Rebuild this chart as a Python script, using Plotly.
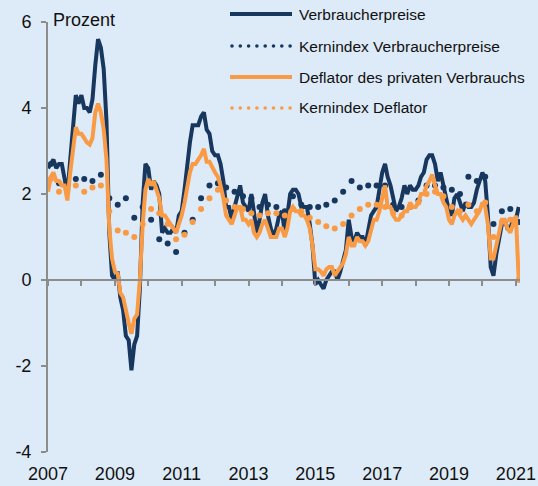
import plotly.graph_objects as go
import pandas as pd

# ---------------- data ----------------
months = pd.date_range("2007-01-01", "2021-02-01", freq="MS").strftime("%Y-%m-%d").tolist()
quarters = pd.date_range("2007-02-01", "2021-02-01", freq="3MS").strftime("%Y-%m-%d").tolist()

verbraucherpreise = [
    2.6, 2.7, 2.8, 2.6, 2.7, 2.7, 2.4, 2.0, 2.8, 3.5, 4.3, 4.1,
    4.3, 4.0, 4.0, 3.9, 4.2, 5.0, 5.6, 5.4, 4.9, 3.7, 1.1, 0.1,
    0.0, 0.2, -0.4, -0.7, -1.3, -1.4, -2.1, -1.5, -1.3, -0.2, 1.8, 2.7,
    2.6, 2.1, 2.3, 2.2, 2.0, 1.1, 1.2, 1.1, 1.1, 1.2, 1.1, 1.5,
    1.6, 2.1, 2.7, 3.2, 3.6, 3.6, 3.6, 3.8, 3.9, 3.5, 3.4, 3.0,
    2.9, 2.9, 2.7, 2.3, 1.7, 1.7, 1.4, 1.7, 2.0, 2.2, 1.8, 1.7,
    1.6, 2.0, 1.5, 1.1, 1.4, 1.8, 2.0, 1.5, 1.2, 1.0, 1.2, 1.5,
    1.6, 1.1, 1.5, 2.0, 2.1, 2.1, 2.0, 1.7, 1.7, 1.7, 1.3, 0.8,
    -0.1, 0.0, -0.1, -0.2, 0.0, 0.1, 0.2, 0.2, 0.0, 0.2, 0.5, 0.7,
    1.4, 1.0, 0.9, 1.1, 1.0, 1.0, 0.8, 1.1, 1.5, 1.6, 1.7, 2.1,
    2.5, 2.7, 2.4, 2.2, 1.9, 1.6, 1.7, 1.9, 2.2, 2.0, 2.2, 2.1,
    2.1, 2.2, 2.4, 2.5, 2.8, 2.9, 2.9, 2.7, 2.3, 2.5, 2.2, 1.9,
    1.6, 1.5, 1.9, 2.0, 1.8, 1.6, 1.8, 1.7, 1.7, 1.8, 2.1, 2.3,
    2.5, 2.3, 1.5, 0.3, 0.1, 0.6, 1.0, 1.3, 1.4, 1.2, 1.2, 1.4,
    1.4, 1.7,
]

deflator = [
    2.05, 2.4, 2.5, 2.3, 2.3, 2.2, 2.2, 1.85, 2.5, 3.0, 3.55, 3.4,
    3.4, 3.3, 3.2, 3.15, 3.3, 3.9, 4.1, 3.9, 3.5, 2.8, 1.2, 0.5,
    0.2, 0.15, -0.3, -0.4, -0.75, -1.0, -1.25, -0.9, -0.8, 0.0, 1.3, 2.1,
    2.35, 2.2, 2.3, 2.1, 1.9, 1.5, 1.5, 1.4, 1.3, 1.2, 1.1, 1.3,
    1.5, 1.8, 2.2, 2.5, 2.7, 2.7, 2.8, 2.9, 3.05, 2.75, 2.75, 2.6,
    2.5, 2.4, 2.2, 1.9, 1.5, 1.4, 1.3, 1.5, 1.7, 1.7, 1.4, 1.4,
    1.3, 1.4, 1.1, 1.0, 1.1, 1.3, 1.4, 1.2, 1.0, 1.0, 1.0, 1.2,
    1.2, 1.0, 1.2, 1.6, 1.7, 1.6, 1.6, 1.5, 1.5, 1.4, 1.2, 0.8,
    0.25, 0.25, 0.2, 0.1, 0.25, 0.3, 0.3, 0.1, 0.2, 0.3, 0.4, 0.6,
    1.0, 0.8, 0.8, 1.0, 0.9, 0.9, 0.8, 0.9, 1.2, 1.4, 1.4, 1.6,
    1.9, 2.2, 1.7, 1.7, 1.5, 1.4, 1.4, 1.5, 1.6, 1.6, 1.8, 1.7,
    1.7, 1.8, 2.0, 2.0, 2.2, 2.3, 2.45, 2.2, 2.0, 2.0, 1.8, 1.7,
    1.4, 1.3, 1.5, 1.6, 1.5, 1.4, 1.5, 1.4, 1.3, 1.4, 1.5, 1.6,
    1.8, 1.7, 1.3, 0.5, 0.5, 0.8, 1.0, 1.4, 1.4, 1.2, 1.1, 1.3,
    1.5, 0.0,
]

kern_vp = [
    2.7, 2.25, 2.2, 2.35,
    2.35, 2.3, 2.45, 1.9,
    1.75, 1.9, 1.45, 1.7,
    1.4, 0.95, 0.85, 0.65,
    1.1, 1.4, 1.9, 2.2,
    2.25, 2.15, 2.05, 1.95,
    1.9, 1.7, 1.75, 1.7,
    1.6, 1.95, 1.75, 1.7,
    1.7, 1.75, 1.85, 2.05,
    2.3, 2.15, 2.2, 2.2,
    2.2, 1.75, 1.7, 1.7,
    1.85, 2.2, 2.2, 2.15,
    2.1, 2.0, 2.4, 2.3,
    2.4, 1.3, 1.6, 1.65,
    1.35,
]

kern_deflator = [
    2.35, 2.05, 2.1, 2.2,
    2.05, 2.15, 2.2, 1.6,
    1.15, 1.1, 1.0, 1.3,
    1.65, 1.55, 1.3, 0.95,
    1.05, 1.35, 1.65, 1.9,
    2.1, 1.85, 1.7, 1.65,
    1.55, 1.5, 1.55, 1.55,
    1.5, 1.65, 1.6, 1.45,
    1.35, 1.25, 1.2, 1.3,
    1.5, 1.65, 1.75, 1.75,
    1.7, 1.55, 1.5, 1.7,
    1.8, 2.0, 2.05, 1.95,
    1.7, 1.6, 1.75, 1.6,
    1.8, 1.0, 1.35, 1.4,
    0.0,
]

names = ["Verbraucherpreise", "Kernindex Verbraucherpreise",
         "Deflator des privaten Verbrauchs", "Kernindex Deflator"]
year_ticks = ["2007-01-01", "2009-01-01", "2011-01-01", "2013-01-01",
              "2015-01-01", "2017-01-01", "2019-01-01", "2021-01-01"]
year_labels = ["2007", "2009", "2011", "2013", "2015", "2017", "2019", "2021"]
y_ticks = [-4, -2, 0, 2, 4, 6]
y_labels = ["-4", "-2", "0", "2", "4", "6"]

# ---------------- style ----------------
NAVY = "#17375E"
ORANGE = "#F99A45"
BG = "#DDEAF7"
AXIS = "#8C8C8C"
FONT = "Arial, Liberation Sans, sans-serif"

W, H = 538, 486
L, R, T, B = 48, 18, 22, 34
X_RANGE = ["2007-01-01", "2021-02-15"]

fig = go.Figure()
fig.add_trace(go.Scatter(x=months, y=verbraucherpreise, mode="lines",
                         line=dict(color=NAVY, width=4), name=names[0]))
fig.add_trace(go.Scatter(x=quarters, y=kern_vp, mode="markers",
                         marker=dict(color=NAVY, size=6), name=names[1]))
fig.add_trace(go.Scatter(x=months, y=deflator, mode="lines",
                         line=dict(color=ORANGE, width=4), name=names[2]))
fig.add_trace(go.Scatter(x=quarters, y=kern_deflator, mode="markers",
                         marker=dict(color=ORANGE, size=6), name=names[3]))

pw = W - L - R
ph = H - T - B
def px(xp):
    return (xp - L) / pw
def py(yp):
    return (H - B - yp) / ph

# manual legend
shapes = []
annotations = []
rows = [14, 46, 77, 108]
colors = [NAVY, NAVY, ORANGE, ORANGE]
dotted = [False, True, False, True]
for i, name in enumerate(names):
    yy = rows[i]
    if dotted[i]:
        for k in range(8):
            cx = 232 + k * 8.3
            shapes.append(dict(type="circle", xref="paper", yref="paper",
                               x0=px(cx - 1.8), x1=px(cx + 1.8),
                               y0=py(yy + 1.8), y1=py(yy - 1.8),
                               fillcolor=colors[i], line=dict(width=0)))
    else:
        shapes.append(dict(type="line", xref="paper", yref="paper",
                           x0=px(230), x1=px(292), y0=py(yy), y1=py(yy),
                           line=dict(color=colors[i], width=4)))
    annotations.append(dict(text=name, xref="paper", yref="paper",
                            x=px(297), y=py(yy), xanchor="left", yanchor="middle",
                            showarrow=False, font=dict(size=15.5, color="#111111", family=FONT)))

annotations.append(dict(text="Prozent", xref="paper", yref="paper",
                        x=px(51), y=py(20), xanchor="left", yanchor="middle",
                        showarrow=False, font=dict(size=18, color="#111111", family=FONT)))

fig.update_layout(
    width=W, height=H,
    margin=dict(l=L, r=R, t=T, b=B, pad=0, autoexpand=False),
    paper_bgcolor=BG, plot_bgcolor=BG,
    showlegend=False,
    font=dict(family=FONT, size=18, color="#111111"),
    shapes=shapes, annotations=annotations,
    xaxis=dict(type="date", range=X_RANGE, anchor="free", position=0.4, automargin=False,
               showgrid=False, zeroline=False, showline=True, linecolor=AXIS, linewidth=2,
               ticks="outside", ticklen=5, tickwidth=2, tickcolor=AXIS,
               dtick="M12", tick0="2007-01-01", showticklabels=False),
    xaxis2=dict(type="date", range=X_RANGE, overlaying="x", anchor="free", position=0,
                automargin=False,
                showgrid=False, zeroline=False, showline=False, ticks="",
                tickmode="array", tickvals=year_ticks, ticktext=year_labels,
                tickfont=dict(size=18, color="#111111"), ticklabelstandoff=9),
    yaxis=dict(range=[-4, 6], showgrid=False, zeroline=False, automargin=False,
               showline=True, linecolor=AXIS, linewidth=2,
               ticks="outside", ticklen=5, tickwidth=2, tickcolor=AXIS,
               tickmode="array", tickvals=y_ticks, ticktext=y_labels,
               tickfont=dict(size=18, color="#111111"), ticklabelstandoff=6),
)
# invisible helper trace so the label axis is rendered
fig.add_trace(go.Scatter(x=[months[0]], y=[0], xaxis="x2", mode="markers",
                         marker=dict(opacity=0), hoverinfo="skip", showlegend=False))

fig.write_html("out.html", config={"displayModeBar": False, "staticPlot": True},
               post_script="document.body.style.margin='0';document.body.style.overflow='hidden';")
